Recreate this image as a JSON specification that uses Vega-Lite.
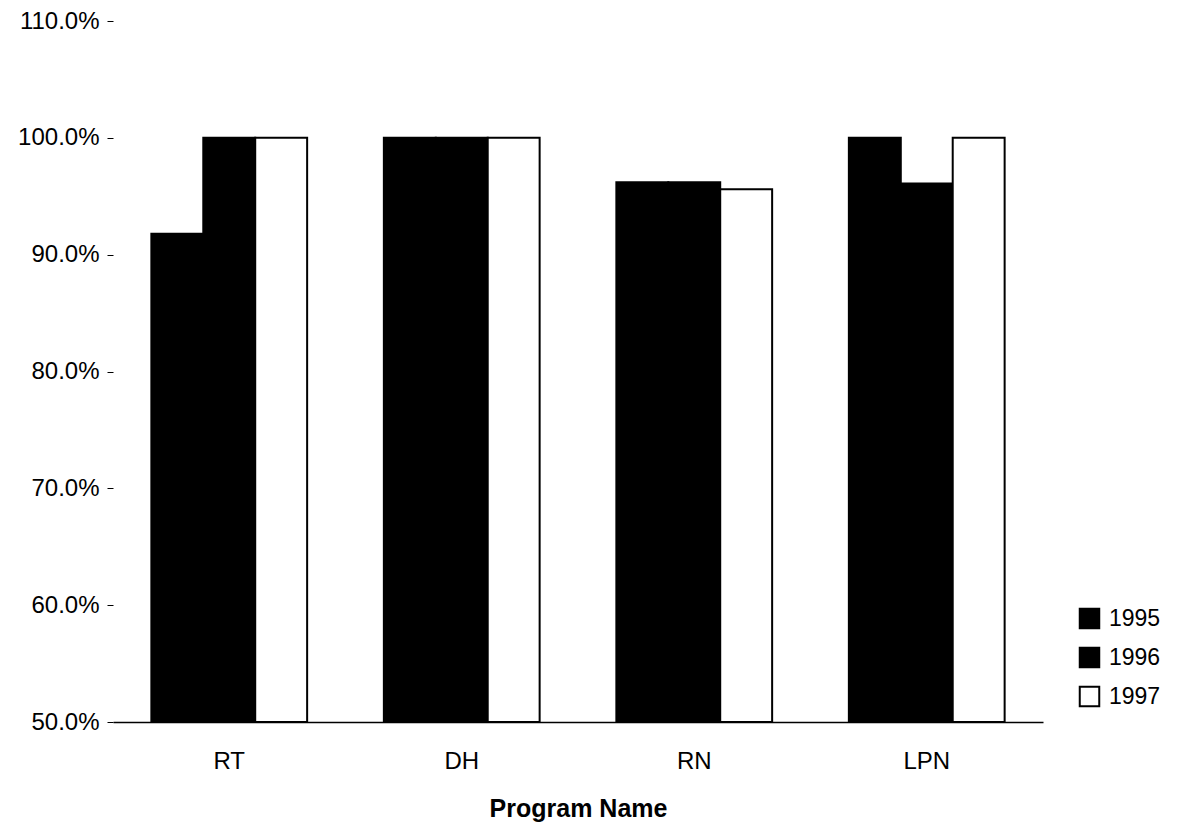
{
  "$schema": "https://vega.github.io/schema/vega-lite/v6.json",
  "autosize": "none",
  "width": 930,
  "height": 701,
  "padding": {"left": 113, "top": 21, "right": 135, "bottom": 103},
  "background": "white",
  "config": {
    "font": "Liberation Sans",
    "view": {"stroke": null}
  },
  "data": {
    "values": [
      {"program": "RT", "year": "1995", "rate": 0.918},
      {"program": "RT", "year": "1996", "rate": 1.0},
      {"program": "RT", "year": "1997", "rate": 1.0},
      {"program": "DH", "year": "1995", "rate": 1.0},
      {"program": "DH", "year": "1996", "rate": 1.0},
      {"program": "DH", "year": "1997", "rate": 1.0},
      {"program": "RN", "year": "1995", "rate": 0.962},
      {"program": "RN", "year": "1996", "rate": 0.962},
      {"program": "RN", "year": "1997", "rate": 0.956},
      {"program": "LPN", "year": "1995", "rate": 1.0},
      {"program": "LPN", "year": "1996", "rate": 0.961},
      {"program": "LPN", "year": "1997", "rate": 1.0}
    ]
  },
  "mark": {"type": "bar", "stroke": "black", "strokeWidth": 2},
  "encoding": {
    "x": {
      "field": "program",
      "type": "nominal",
      "sort": ["RT", "DH", "RN", "LPN"],
      "scale": {"paddingInner": 0.33, "paddingOuter": 0.165},
      "axis": {
        "title": "Program Name",
        "titleFont": "Liberation Sans",
        "titleFontSize": 25,
        "titleFontWeight": "bold",
        "titleColor": "black",
        "titlePadding": 23,
        "labelAngle": 0,
        "labelFont": "Liberation Sans",
        "labelFontSize": 24,
        "labelColor": "black",
        "labelPadding": 27,
        "ticks": false,
        "domain": true,
        "domainColor": "black",
        "domainWidth": 1.5
      }
    },
    "xOffset": {"field": "year", "type": "nominal", "scale": {"paddingInner": 0, "paddingOuter": 0}},
    "y": {
      "field": "rate",
      "type": "quantitative",
      "scale": {"domain": [0.5, 1.1], "clamp": true, "zero": false, "nice": false},
      "axis": {
        "title": null,
        "format": ".1%",
        "values": [0.5, 0.6, 0.7, 0.8, 0.9, 1.0, 1.1],
        "grid": false,
        "domain": false,
        "ticks": true,
        "tickSize": 6,
        "tickColor": "black",
        "labelFont": "Liberation Sans",
        "labelFontSize": 24,
        "labelColor": "black",
        "labelPadding": 8
      }
    },
    "fill": {
      "field": "year",
      "type": "nominal",
      "scale": {"domain": ["1995", "1996", "1997"], "range": ["black", "black", "white"]},
      "legend": {
        "title": null,
        "orient": "none",
        "legendX": 965,
        "legendY": 586,
        "symbolType": "square",
        "symbolSize": 380,
        "symbolStrokeColor": "black",
        "symbolStrokeWidth": 2,
        "labelFont": "Liberation Sans",
        "labelFontSize": 23,
        "labelColor": "black",
        "rowPadding": 10,
        "labelOffset": 8
      }
    }
  }
}
